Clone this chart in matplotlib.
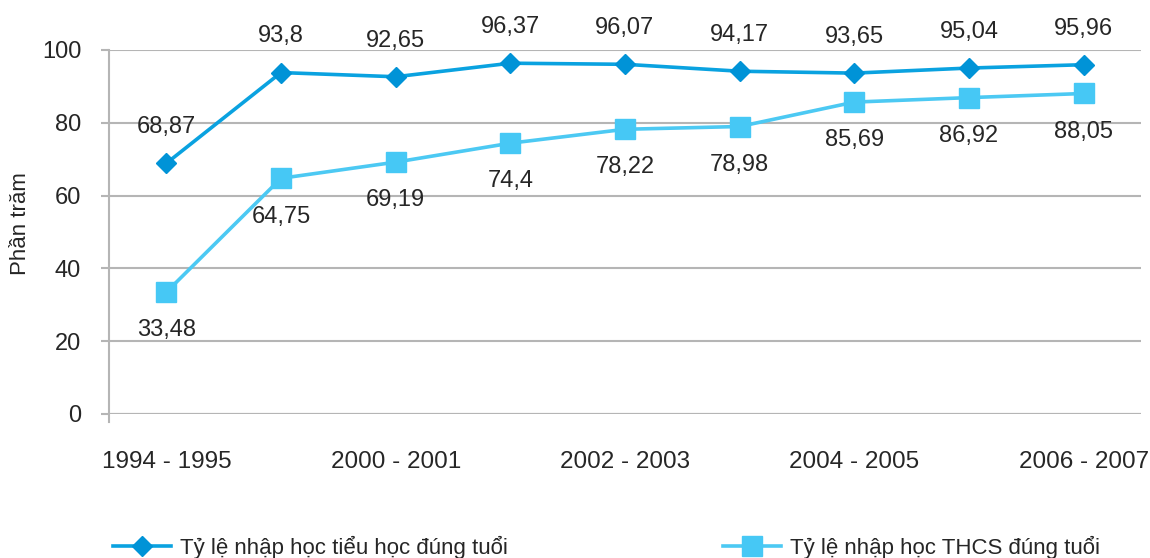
import matplotlib
matplotlib.use("Agg")
import matplotlib.pyplot as plt

plt.rcParams['font.family'] = ['Liberation Sans', 'DejaVu Sans']

# Enrolment rates by school year
years = ["1994 - 1995", "1999 - 2000", "2000 - 2001", "2001 - 2002", "2002 - 2003",
         "2003 - 2004", "2004 - 2005", "2005 - 2006", "2006 - 2007"]
primary = [68.87, 93.8, 92.65, 96.37, 96.07, 94.17, 93.65, 95.04, 95.96]
lower_secondary = [33.48, 64.75, 69.19, 74.4, 78.22, 78.98, 85.69, 86.92, 88.05]
primary_name = "Tỷ lệ nhập học tiểu học đúng tuổi"
secondary_name = "Tỷ lệ nhập học THCS đúng tuổi"
y_ticks = [0, 20, 40, 60, 80, 100]

text_color = "#262626"
grid_color = "#B5B5B5"

fig = plt.figure(figsize=(11.5, 5.58), dpi=100)
ax = fig.add_axes([109 / 1150, 1 - 414 / 558, 1032 / 1150, 364 / 558])

x = list(range(len(years)))
ax.plot(x, primary, color="#0AA2E0", lw=2.6, marker="D", ms=10.5,
        mfc="#0093D7", mec="#0093D7", label=primary_name, zorder=3)
ax.plot(x, lower_secondary, color="#4CC9F3", lw=2.6, marker="s", ms=15,
        mfc="#46C8F5", mec="#46C8F5", label=secondary_name, zorder=3)

def fmt(v):
    return f"{v:g}".replace(".", ",")

for xi, v in zip(x, primary):
    ax.annotate(fmt(v), (xi, v), xytext=(0, 26), textcoords="offset points",
                ha="center", va="center", fontsize=17, color=text_color)
for xi, v in zip(x, lower_secondary):
    ax.annotate(fmt(v), (xi, v), xytext=(0, -27.5), textcoords="offset points",
                ha="center", va="center", fontsize=17, color=text_color)

ax.set_xlim(-0.5, len(years) - 0.5)
ax.set_ylim(0, 100)
ax.set_yticks(y_ticks)
ax.set_xticks(x[::2])
ax.set_xticklabels(years[::2])
ax.grid(axis="y", color=grid_color, lw=1.5)
ax.set_axisbelow(True)

for s in ["top", "right", "bottom"]:
    ax.spines[s].set_visible(False)
ax.spines["left"].set_color(grid_color)
ax.spines["left"].set_linewidth(1.5)
ax.spines["left"].set_bounds(-2.2, 100)
ax.axhline(0, color=grid_color, lw=1.5, zorder=1)

ax.tick_params(axis="y", length=6, width=1.5, color=grid_color, pad=14,
               labelsize=17, labelcolor=text_color)
ax.tick_params(axis="x", length=0, pad=27, labelsize=17.5, labelcolor=text_color)

fig.text(21 / 1150, 1 - 224 / 558, "Phần trăm", rotation=90, ha="center", va="center",
         fontsize=16, color=text_color)

fig.legend(loc="center left", bbox_to_anchor=(113 / 1150, 1 - 547 / 558), ncol=2,
           frameon=False, fontsize=16, handlelength=2.6, handletextpad=0.4,
           columnspacing=9.7, borderaxespad=0, borderpad=0, labelcolor=text_color)

fig.savefig("out.png", dpi=100)
